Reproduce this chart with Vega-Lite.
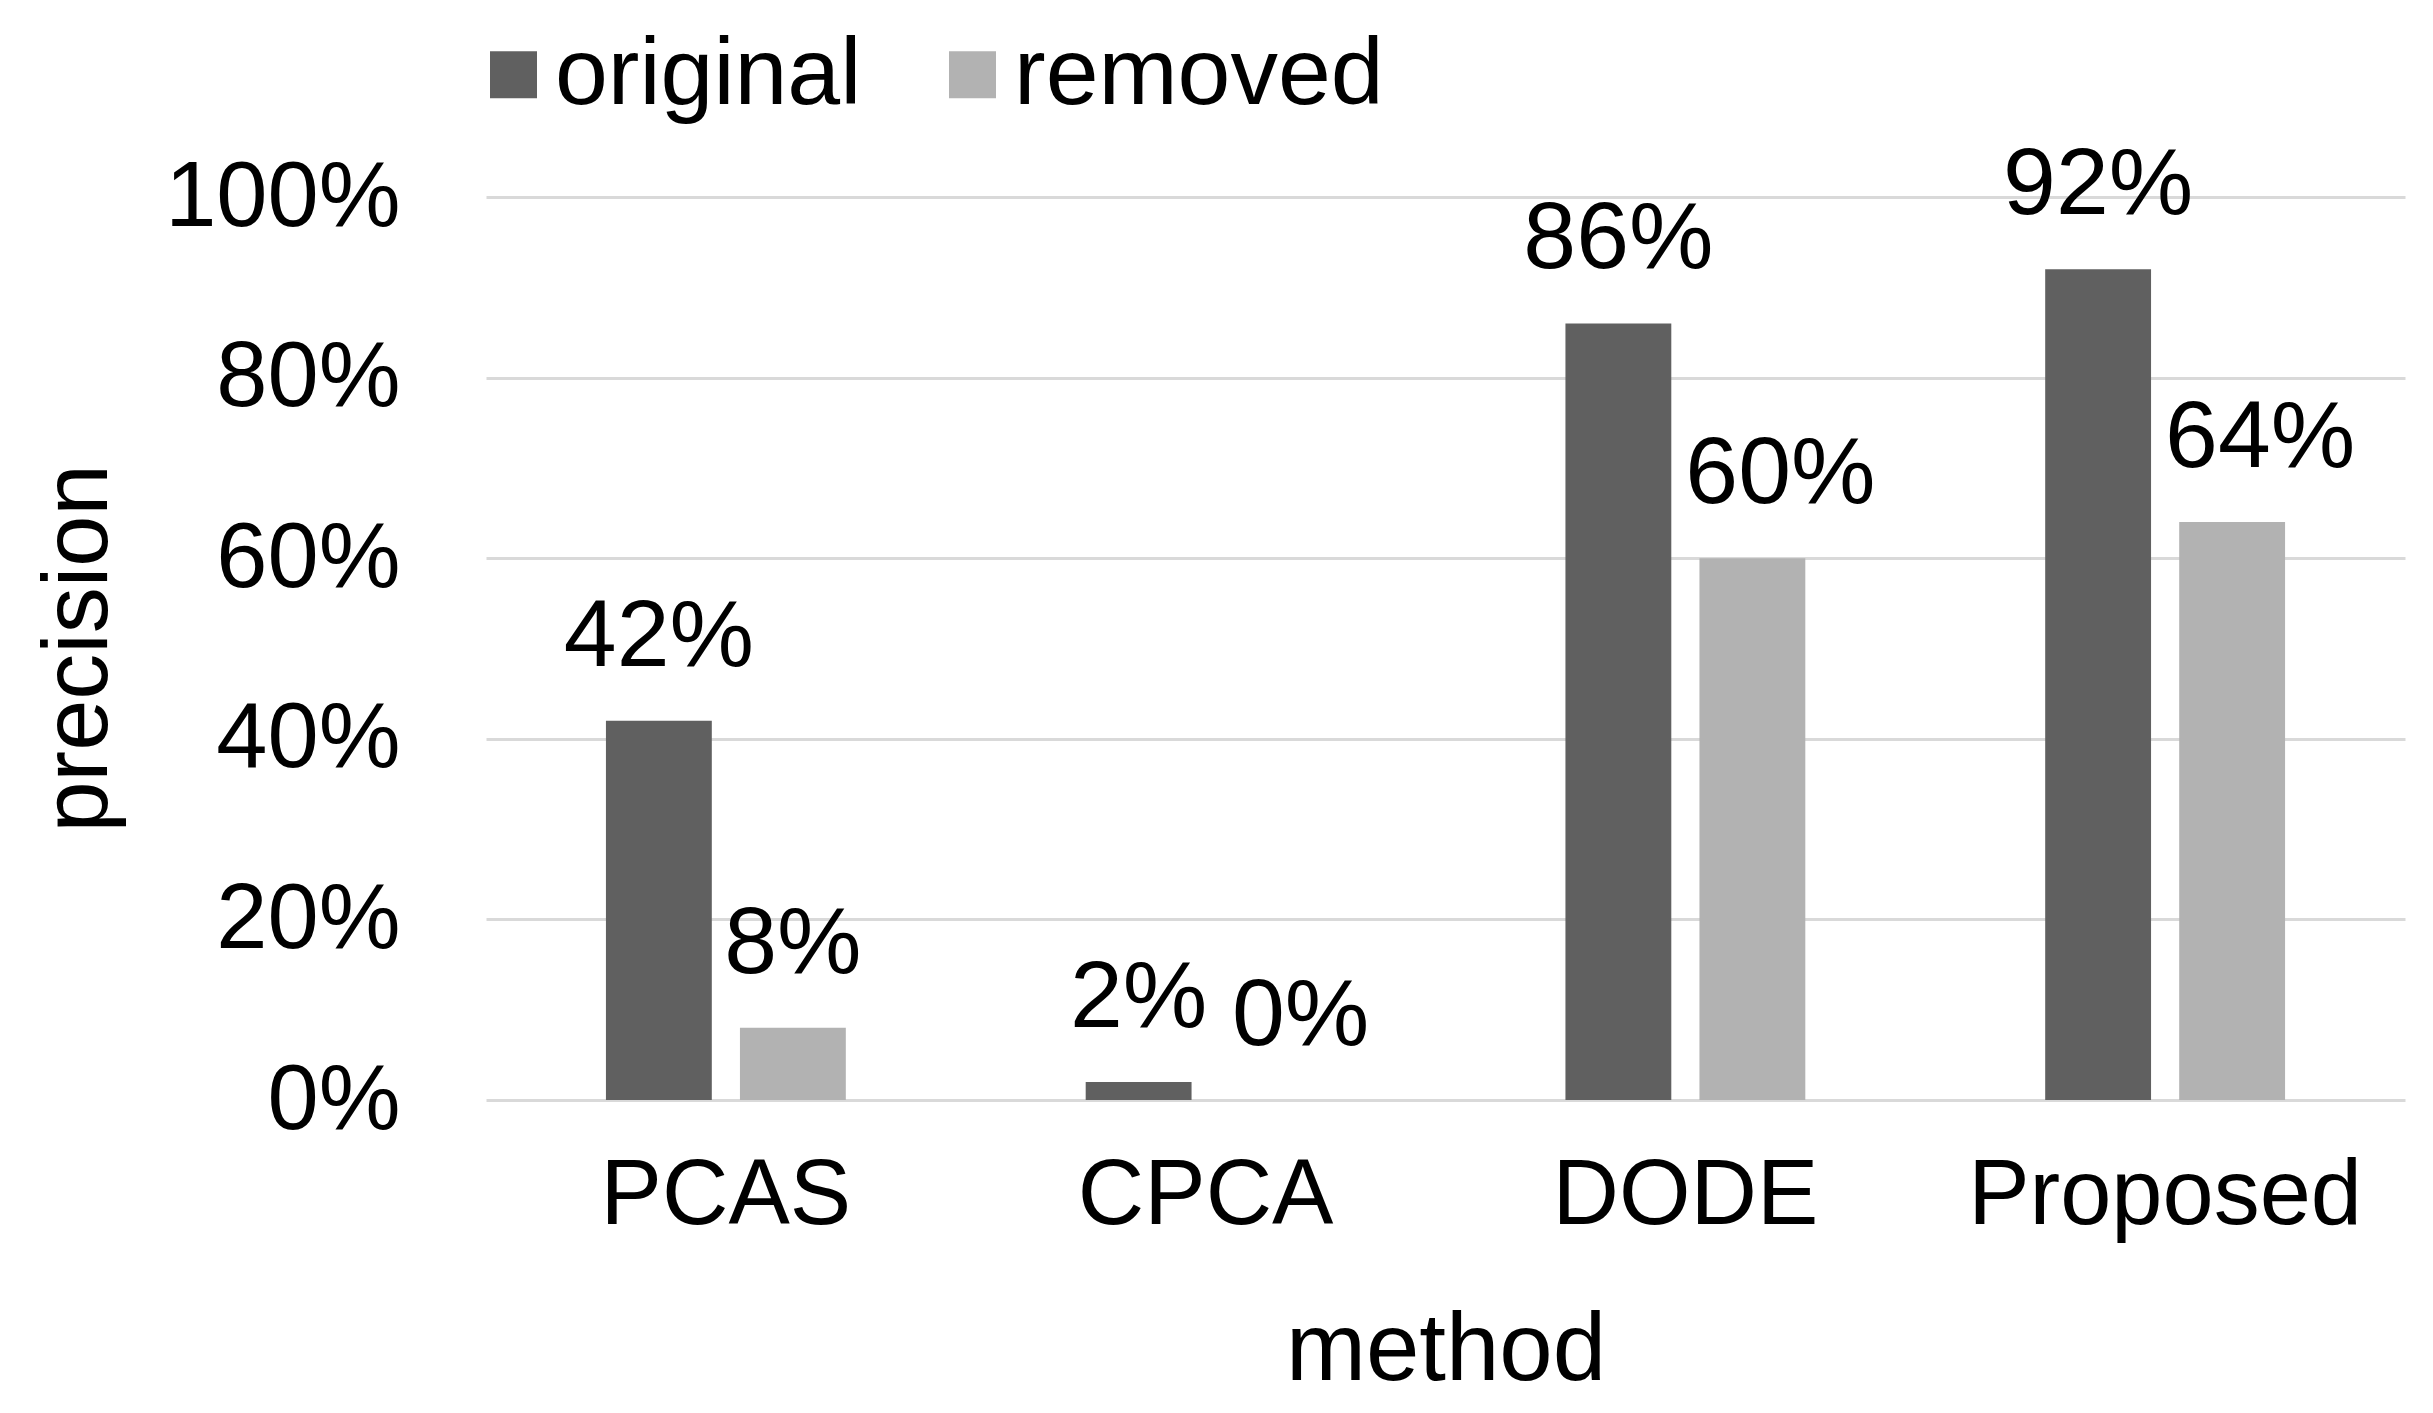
{
  "$schema": "https://vega.github.io/schema/vega-lite/v6.json",
  "width": 1919,
  "height": 903,
  "autosize": {"type": "none"},
  "padding": {"left": 486, "top": 197, "right": 28, "bottom": 313},
  "background": "white",
  "config": {
    "view": {"stroke": null},
    "font": "Liberation Sans",
    "text": {"font": "Liberation Sans"}
  },
  "data": {
    "values": [
      {"method": "PCAS", "series": "original", "precision": 0.42},
      {"method": "PCAS", "series": "removed", "precision": 0.08},
      {"method": "CPCA", "series": "original", "precision": 0.02},
      {"method": "CPCA", "series": "removed", "precision": 0.0},
      {"method": "DODE", "series": "original", "precision": 0.86},
      {"method": "DODE", "series": "removed", "precision": 0.60},
      {"method": "Proposed", "series": "original", "precision": 0.92},
      {"method": "Proposed", "series": "removed", "precision": 0.64}
    ]
  },
  "encoding": {
    "x": {
      "field": "method",
      "type": "nominal",
      "sort": ["PCAS", "CPCA", "DODE", "Proposed"],
      "scale": {"paddingInner": 0.5, "paddingOuter": 0.25},
      "axis": {
        "title": "method",
        "labelAngle": 0,
        "domain": false,
        "ticks": false,
        "labelFontSize": 92,
        "labelLimit": 0,
        "labelColor": "#000000",
        "labelPadding": 50,
        "titleFontSize": 96,
        "titleFontWeight": "normal",
        "titleColor": "#000000",
        "titlePadding": 62
      }
    },
    "xOffset": {
      "field": "series",
      "type": "nominal",
      "sort": ["original", "removed"],
      "scale": {"paddingInner": 0.21}
    },
    "y": {
      "field": "precision",
      "type": "quantitative",
      "scale": {"domain": [0, 1]},
      "axis": {
        "title": "precision",
        "values": [0, 0.2, 0.4, 0.6, 0.8, 1],
        "format": ".0%",
        "domain": false,
        "ticks": false,
        "gridColor": "#d9d9d9",
        "gridWidth": 3,
        "labelFontSize": 92,
        "labelLimit": 1000,
        "labelColor": "#000000",
        "labelPadding": 86,
        "titleFontSize": 92,
        "titleFontWeight": "normal",
        "titleColor": "#000000",
        "titleX": -408,
        "titleY": 451,
        "titleAlign": "center",
        "titleBaseline": "middle",
        "titleAngle": -90
      }
    }
  },
  "layer": [
    {
      "mark": {"type": "bar"},
      "encoding": {
        "color": {
          "field": "series",
          "type": "nominal",
          "sort": ["original", "removed"],
          "scale": {"domain": ["original", "removed"], "range": ["#606060", "#b2b2b2"]},
          "legend": {
            "title": null,
            "orient": "none",
            "direction": "horizontal",
            "legendX": -20,
            "legendY": -170,
            "symbolType": "square",
            "symbolSize": 2209,
            "symbolStrokeWidth": 0,
            "labelFontSize": 95,
            "labelColor": "#000000",
            "labelOffset": -6,
            "columnPadding": 63,
            "labelLimit": 1000
          }
        }
      }
    },
    {
      "transform": [{"filter": "datum.series == 'original' || datum.method == 'PCAS'"}],
      "mark": {"type": "text", "baseline": "alphabetic", "dy": -55, "fontSize": 95, "color": "#000000"},
      "encoding": {
        "text": {"field": "precision", "type": "quantitative", "format": ".0%"}
      }
    },
    {
      "transform": [{"filter": "datum.series == 'removed' && datum.method != 'PCAS'"}],
      "mark": {"type": "text", "baseline": "alphabetic", "dy": -55, "dx": 28, "fontSize": 95, "color": "#000000"},
      "encoding": {
        "text": {"field": "precision", "type": "quantitative", "format": ".0%"}
      }
    }
  ]
}
